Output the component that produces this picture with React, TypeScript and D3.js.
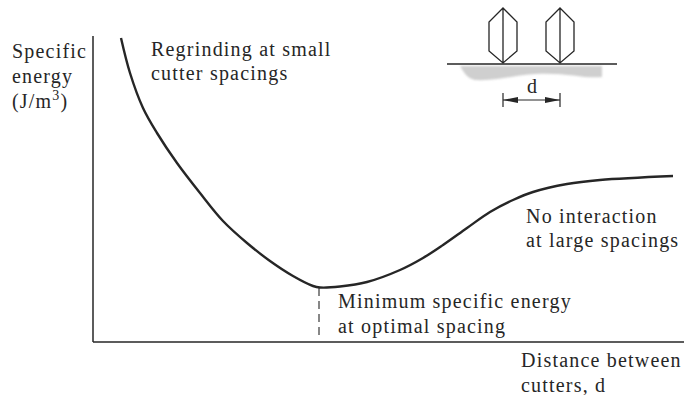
import React from "react";
import * as d3 from "d3";

const curveX = [28, 37, 50, 64, 84, 107, 130, 154, 177, 200, 220, 227, 247, 274, 307, 330, 350, 374, 397, 420, 440, 474, 507, 580];
const curveY = [304, 269, 234, 209, 179, 149, 121, 99, 81, 66, 56, 54.5, 55.5, 60, 72, 84, 97, 114, 130, 142, 150, 158, 162, 166];
const minimumX = 226;
const labels = [
  { lines: ["Specific", "energy"], x: 12, y: 58, dy: 25 },
  { lines: ["Regrinding at small", "cutter spacings"], x: 151, y: 56, dy: 24 },
  { lines: ["No interaction", "at large spacings"], x: 526, y: 223, dy: 24 },
  { lines: ["Minimum specific energy", "at optimal spacing"], x: 338, y: 308, dy: 25 },
  { lines: ["Distance between", "cutters, d"], x: 521, y: 367, dy: 25 },
];

const x = d3.scaleLinear().domain([0, 591]).range([93, 684]);
const y = d3.scaleLinear().domain([0, 306]).range([342, 36]);
const line = d3.line<number>().x((d) => x(d)).y((_, i) => y(curveY[i])).curve(d3.curveCatmullRom.alpha(0.5));

const ink = "#262626";
const cutter = (cx: number) =>
  `M${cx} 8 L${cx + 14} 22 V51 L${cx} 63 L${cx - 14} 51 V22 Z M${cx} 8 V63`;

export default function App() {
  return (
    <svg width={684} height={395} style={{ position: "absolute", left: 0, top: 0, background: "#fff" }}
      fontFamily="'Liberation Serif', serif" fontSize={20} fill={ink} letterSpacing={1.2}>
      <defs>
        <marker id="arr" markerWidth={15} markerHeight={8} refX={15} refY={4} orient="auto-start-reverse" markerUnits="userSpaceOnUse">
          <path d="M0 1 L15 4 L0 7 Z" fill={ink} />
        </marker>
        <filter id="soft"><feGaussianBlur stdDeviation={1.2} /></filter>
      </defs>
      <line x1={x(0)} x2={x(0)} y1={y(306)} y2={y(0)} stroke={ink} strokeWidth={1.5} />
      <line x1={x(0)} x2={x(591)} y1={y(0)} y2={y(0)} stroke={ink} strokeWidth={1.5} />
      <path d={line(curveX) ?? ""} fill="none" stroke={ink} strokeWidth={2.4} />
      <line x1={x(minimumX)} x2={x(minimumX)} y1={y(54)} y2={y(6)} stroke={ink} strokeWidth={1.1} strokeDasharray="8 5" />
      {labels.map((l) =>
        l.lines.map((t, i) => (
          <text key={t} x={l.x} y={l.y + i * l.dy}>{t}</text>
        ))
      )}
      <text x={12} y={108}>(J/m<tspan dy={-8} fontSize={14}>3</tspan><tspan dy={8}>)</tspan></text>
      <path d="M460 66 L602 66 L602 77 C585 79 565 72 535 74 C510 76 495 81 475 80 C466 78 464 72 460 66 Z" fill="#cfcfcf" filter="url(#soft)" />
      <line x1={447} x2={617} y1={64} y2={64} stroke={ink} strokeWidth={1.5} />
      <path d={cutter(503)} fill="none" stroke={ink} strokeWidth={1.3} />
      <path d={cutter(560)} fill="none" stroke={ink} strokeWidth={1.3} />
      <text x={527} y={93} fontSize={20}>d</text>
      <line x1={503} x2={503} y1={93} y2={107} stroke={ink} strokeWidth={1.2} />
      <line x1={560} x2={560} y1={93} y2={107} stroke={ink} strokeWidth={1.2} />
      <line x1={503} x2={560} y1={100} y2={100} stroke={ink} strokeWidth={1} markerStart="url(#arr)" markerEnd="url(#arr)" />
    </svg>
  );
}
